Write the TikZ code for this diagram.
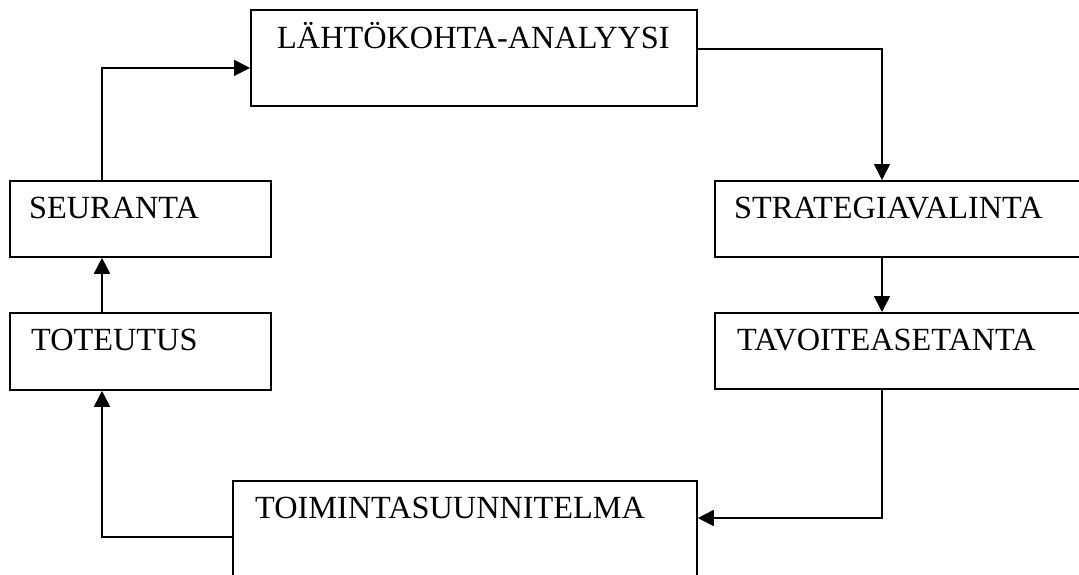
\documentclass[tikz,border=0pt]{standalone}
\usepackage{fontspec}
\setmainfont{Liberation Serif}
\usetikzlibrary{arrows.meta}
\tikzset{
  stage/.style={draw, line width=1.8pt, rectangle, inner sep=0pt, anchor=north west},
  caption/.style={anchor=base west, inner sep=0pt, font=\fontsize{32.3}{38}\selectfont},
  link/.style={line width=1.8pt},
  arr/.style={link, -{Triangle[length=16pt,width=16pt]}}
}
\begin{document}
\begin{tikzpicture}[x=1pt, y=-1pt]
  \useasboundingbox (0,0) rectangle (1079,574);
  \clip (0,0) rectangle (1079,574);
  \fill[white] (0,0) rectangle (1079,574);

  % stage boxes
  \node[stage, minimum width=446pt, minimum height=96pt] (lahto) at (250,9) {};
  \node[stage, minimum width=261pt, minimum height=76pt] (seur) at (9,180) {};
  \node[stage, minimum width=261pt, minimum height=77pt] (tot) at (9,312) {};
  \node[stage, minimum width=400pt, minimum height=76pt] (strat) at (714,180) {};
  \node[stage, minimum width=400pt, minimum height=76pt] (tavo) at (714,312) {};
  \node[stage, minimum width=464pt, minimum height=130pt] (toim) at (232,480) {};

  % captions
  \node[caption] (tlahto) at (277,48) {LÄHTÖKOHTA-ANALYYSI};
  \node[caption] (tseur) at (29,218) {SEURANTA};
  \node[caption] (ttot) at (31,350) {TOTEUTUS};
  \node[caption] (tstrat) at (734,218) {STRATEGIAVALINTA};
  \node[caption] (ttavo) at (737,350) {TAVOITEASETANTA};
  \node[caption] (ttoim) at (255,518) {TOIMINTASUUNNITELMA};

  % cycle connectors
  \draw[arr] ([xshift=93pt]seur.north west) |- ([yshift=-10pt]lahto.west);
  \draw[arr] ([yshift=9pt]lahto.east) -| ([xshift=168pt]strat.north west);
  \draw[arr] ([xshift=168pt]strat.south west) -- ([xshift=168pt]tavo.north west);
  \draw[arr] ([xshift=168pt]tavo.south west) |- ([yshift=-38pt]toim.north east);
  \draw[arr] ([yshift=-57pt]toim.north west) -| ([xshift=93pt]tot.south west);
  \draw[arr] ([xshift=93pt]tot.north west) -- ([xshift=93pt]seur.south west);
\end{tikzpicture}
\end{document}
